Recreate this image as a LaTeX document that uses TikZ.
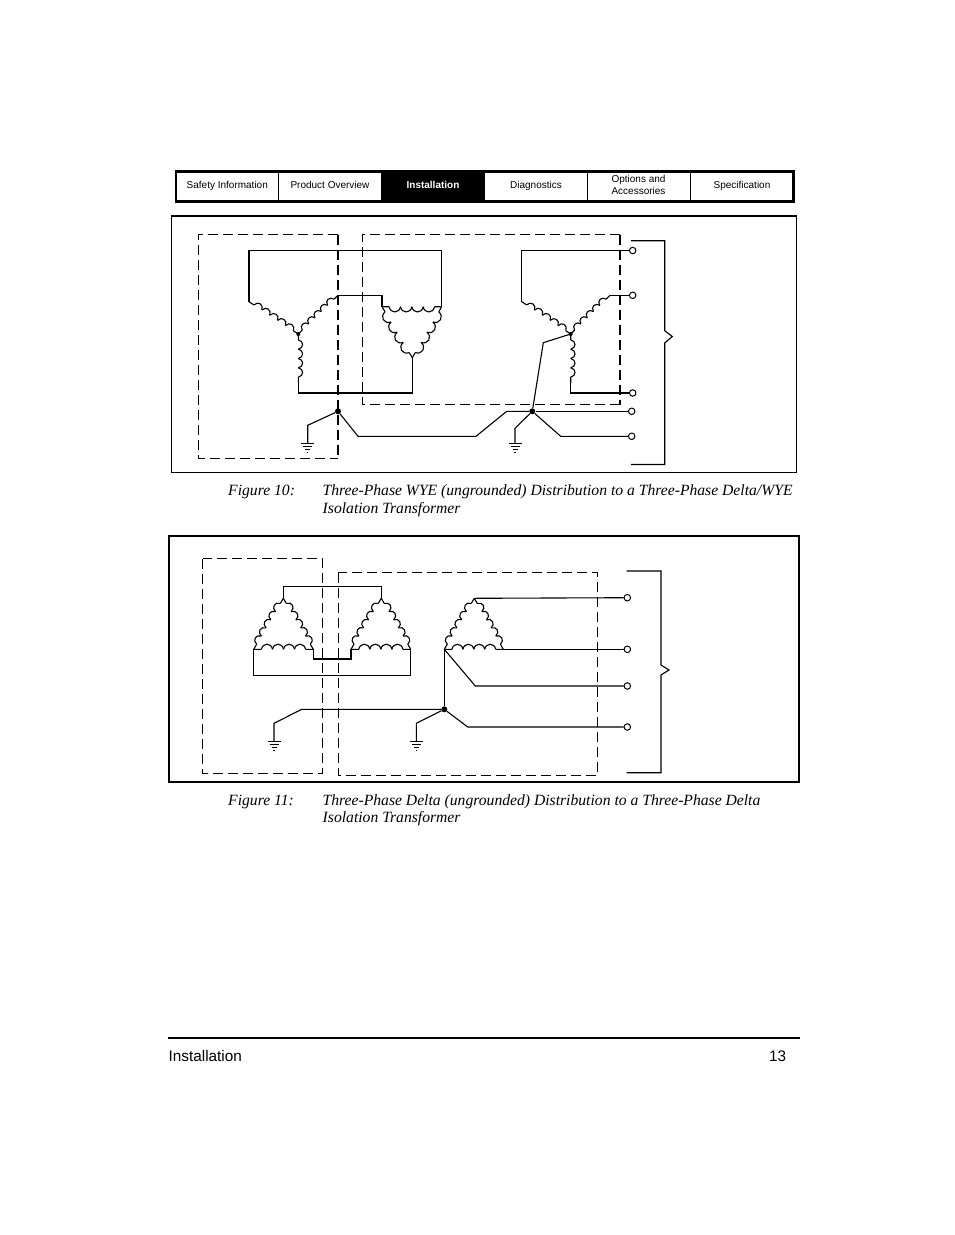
\documentclass[tikz,border=0pt]{standalone}
\usepackage{fontspec}
\setmainfont{Liberation Serif}
\setsansfont{Liberation Sans}
\usetikzlibrary{calc}
\tikzset{
  wire/.style={line width=1.1pt,black},
  dashbox/.style={line width=1pt,dash pattern=on 10pt off 5pt},
  frame/.style={line width=1pt},
  tabtxt/.style={font=\sffamily\fontsize{10}{12}\selectfont,anchor=base,inner sep=0pt},
  captxt/.style={font=\rmfamily\itshape\fontsize{15.65}{17.6}\selectfont,anchor=base west,inner sep=0pt,align=left},
  foot/.style={font=\sffamily\fontsize{15.3}{18}\selectfont,anchor=base west,inner sep=0pt},
  dotnode/.style={circle,fill=black,inner sep=0pt,minimum size=6pt},
  term/.style={circle,draw=black,line width=1pt,fill=white,inner sep=0pt,minimum size=6.5pt},
}
% ground symbol below a named point
\newcommand{\gndsym}[1]{%
  \draw[wire] ($(#1)+(-6.5,0)$) -- ($(#1)+(6.5,0)$);
  \draw[wire] ($(#1)+(-4.5,3)$) -- ($(#1)+(4.5,3)$);
  \draw[wire] ($(#1)+(-2.5,6)$) -- ($(#1)+(2.5,6)$);
  \draw[wire] ($(#1)+(-.7,9)$) -- ($(#1)+(.7,9)$);
}
% winding: from A to B, n scallops, bulge angle, lead-in fraction
\newcommand{\windg}[5]{%
  \pgfmathsetmacro{\myin}{180-(#4)}%
  \draw[wire] (#1) -- ($(#1)!#5!(#2)$);
  \draw[wire] (#2) -- ($(#2)!#5!(#1)$);
  \foreach \k in {1,...,#3}{%
    \pgfmathsetmacro{\fa}{#5+(1-2*#5)*(\k-1)/#3}%
    \pgfmathsetmacro{\fb}{#5+(1-2*#5)*\k/#3}%
    \draw[wire] ($(#1)!\fa!(#2)$) to[relative,looseness=1.6,out=#4,in=\myin] ($(#1)!\fb!(#2)$);
  }%
}
\begin{document}
\begin{tikzpicture}[x=1pt,y=-1pt]
\useasboundingbox (0,0) rectangle (954,1235);
\fill[white] (0,0) rectangle (954,1235);
% ---------- tab bar
\fill[black] (174.5,170) rectangle (795,203);
\foreach \nm/\a/\b in {t1/176.5/278,t2/279/381,t4/485/587,t5/588/690,t6/691/792}{
  \fill[white] (\a,173) rectangle (\b,200);
}
\node[tabtxt] (tab1) at (227.3,188) {Safety Information};
\node[tabtxt] (tab2) at (330,188) {Product Overview};
\node[tabtxt,white,font=\sffamily\bfseries\fontsize{10}{12}\selectfont] (tab3) at (433,188) {Installation};
\node[tabtxt] (tab4) at (536,188) {Diagnostics};
\node[tabtxt] (tab5a) at (638.5,182) {Options and};
\node[tabtxt] (tab5b) at (638.5,194) {Accessories};
\node[tabtxt] (tab6) at (742,188) {Specification};
% ---------- figure 10
\draw[frame] (171.5,216) -- (171.5,472.5) -- (796.5,472.5) -- (796.5,216);
\draw[line width=2pt] (171,216) -- (797,216);
\draw[dashbox] (338,234.5) -- (198.5,234.5) -- (198.5,458.5) -- (338,458.5);
\draw[dashbox,line width=1.8pt] (338,234.5) -- (338,458.5);
\draw[dashbox] (619.7,234.5) -- (362.5,234.5) -- (362.5,404.5) -- (619.7,404.5);
\draw[dashbox,line width=1.8pt] (619.7,234.5) -- (619.7,404.5);
\coordinate (aL) at (249,301.7);
\coordinate (aC) at (298.3,334);
\coordinate (aR) at (338,295.3);
\coordinate (aB) at (298.3,383);
\coordinate (dL) at (382,306.7);
\coordinate (dR) at (441.7,306.7);
\coordinate (dB) at (412.3,357.7);
\coordinate (cL) at (521.7,301.7);
\coordinate (cC) at (570.7,334);
\coordinate (cR) at (610,295.3);
\coordinate (cB) at (570.7,383);
\node[term] (T1) at (632.7,250.5) {};
\node[term] (T2) at (632.7,295.3) {};
\node[term] (T3) at (632.7,393) {};
\node[term] (T4) at (631.7,411.3) {};
\node[term] (T5) at (631.7,436.3) {};
\node[dotnode] (J1) at (338,411.3) {};
\node[dotnode] (J2) at (532.3,411.3) {};
\fill (aC) circle (2pt);
\fill (cC) circle (2pt);
% top and return wires
\draw[wire] (aL) -- (249,250.5) -- (441.7,250.5) -- (dR);
\draw[wire] (aR) -- (382,295.3) -- (dL);
\draw[wire] (aB) -- (298.3,393) -- (412.3,393) -- (dB);
\windg{aL}{aC}{5}{80}{0.1}
\windg{aC}{aR}{5}{80}{0.1}
\windg{aC}{aB}{4}{80}{0.12}
% delta
\windg{dL}{dR}{4}{-80}{0.12}
\windg{dR}{dB}{4}{80}{0.1}
\windg{dB}{dL}{4}{80}{0.1}
% load side wye
\draw[wire] (cL) -- (521.7,250.5) -- (T1);
\windg{cL}{cC}{5}{80}{0.1}
\windg{cC}{cR}{5}{80}{0.1}
\draw[wire] (cR) -- (T2);
\windg{cC}{cB}{4}{80}{0.12}
\draw[wire] (cB) -- (570.7,393) -- (T3);
% neutral wires
\coordinate (g1) at (307.7,443.3);
\coordinate (g2) at (515,443.3);
\draw[wire] (J1) -- (307.7,425.3) -- (g1);
\draw[wire] (J1) -- (358,436.3) -- (476,436.3) -- (506.7,411.3) -- (J2);
\draw[wire] (J2) -- (T4);
\draw[wire] (J2) -- (543.3,342.7) -- (cC);
\draw[wire] (J2) -- (515,428.3) -- (g2);
\draw[wire] (J2) -- (560.7,436.3) -- (T5);
\gndsym{g1}
\gndsym{g2}
\draw[wire] (631,240.7) -- (664.7,240.7) -- (664.7,330.7) -- (672.3,336.5) -- (664.7,343) -- (664.7,464.5) -- (631,464.5);
% caption 10
\node[captxt] (c10a) at (228,495) {Figure 10:};
\node[captxt] (c10b) at (322.5,495) {Three-Phase WYE (ungrounded) Distribution to a Three-Phase Delta/WYE};
\node[captxt] (c10c) at (322.5,513) {Isolation Transformer};
% ---------- figure 11
\draw[line width=2pt] (169,535.5) rectangle (799.3,782);
\draw[dashbox] (202.7,558.5) rectangle (322.5,773.3);
\draw[dashbox] (338.3,572.5) rectangle (597.5,775.3);
\coordinate (eT) at (283.3,598.3);
\coordinate (eL) at (253.7,649.3);
\coordinate (eR) at (313.3,649.3);
\coordinate (fT) at (381.3,598.3);
\coordinate (fL) at (351,649.3);
\coordinate (fR) at (410.7,649.3);
\coordinate (hT) at (474.3,598.3);
\coordinate (hL) at (444.3,649.3);
\coordinate (hR) at (503.3,649.3);
\foreach \p in {e,f,h}{
  \windg{\p L}{\p T}{5}{80}{0.1}
  \windg{\p T}{\p R}{5}{80}{0.1}
  \windg{\p R}{\p L}{4}{-80}{0.13}
}
\draw[wire] (eT) -- (283.3,586.7) -- (381.3,586.7) -- (fT);
\draw[wire] (eR) -- (313.3,659) -- (351,659) -- (fL);
\draw[wire] (eL) -- (253.7,675.3) -- (410.7,675.3) -- (fR);
\node[dotnode] (J3) at (444.3,709.3) {};
\node[term] (U1) at (627.3,597.7) {};
\node[term] (U2) at (627.3,649.3) {};
\node[term] (U3) at (627.3,686) {};
\node[term] (U4) at (627.3,727) {};
\coordinate (g3) at (274,741.7);
\coordinate (g4) at (416.3,741.7);
\draw[wire] (hL) -- (J3);
\draw[wire] (J3) -- (301.7,709.3) -- (274,723.3) -- (g3);
\draw[wire] (J3) -- (416.3,723.3) -- (g4);
\draw[wire] (J3) -- (467.7,727) -- (U4);
\draw[wire] (hL) -- (475.3,686) -- (U3);
\draw[wire] (hR) -- (U2);
\draw[wire] (hT) -- (U1);
\gndsym{g3}
\gndsym{g4}
\draw[wire] (626.7,571) -- (661,571) -- (661,665) -- (669,670) -- (661,675) -- (661,772.7) -- (626.7,772.7);
% caption 11
\node[captxt] (c11a) at (228,805) {Figure 11:};
\node[captxt] (c11b) at (322.5,805) {Three-Phase Delta (ungrounded) Distribution to a Three-Phase Delta};
\node[captxt] (c11c) at (322.5,822) {Isolation Transformer};
% ---------- footer
\draw[line width=2pt] (168,1038) -- (800,1038);
\node[foot] (f1) at (168.5,1061) {Installation};
\node[foot] (f2) at (769,1061) {13};
\end{tikzpicture}
\end{document}
